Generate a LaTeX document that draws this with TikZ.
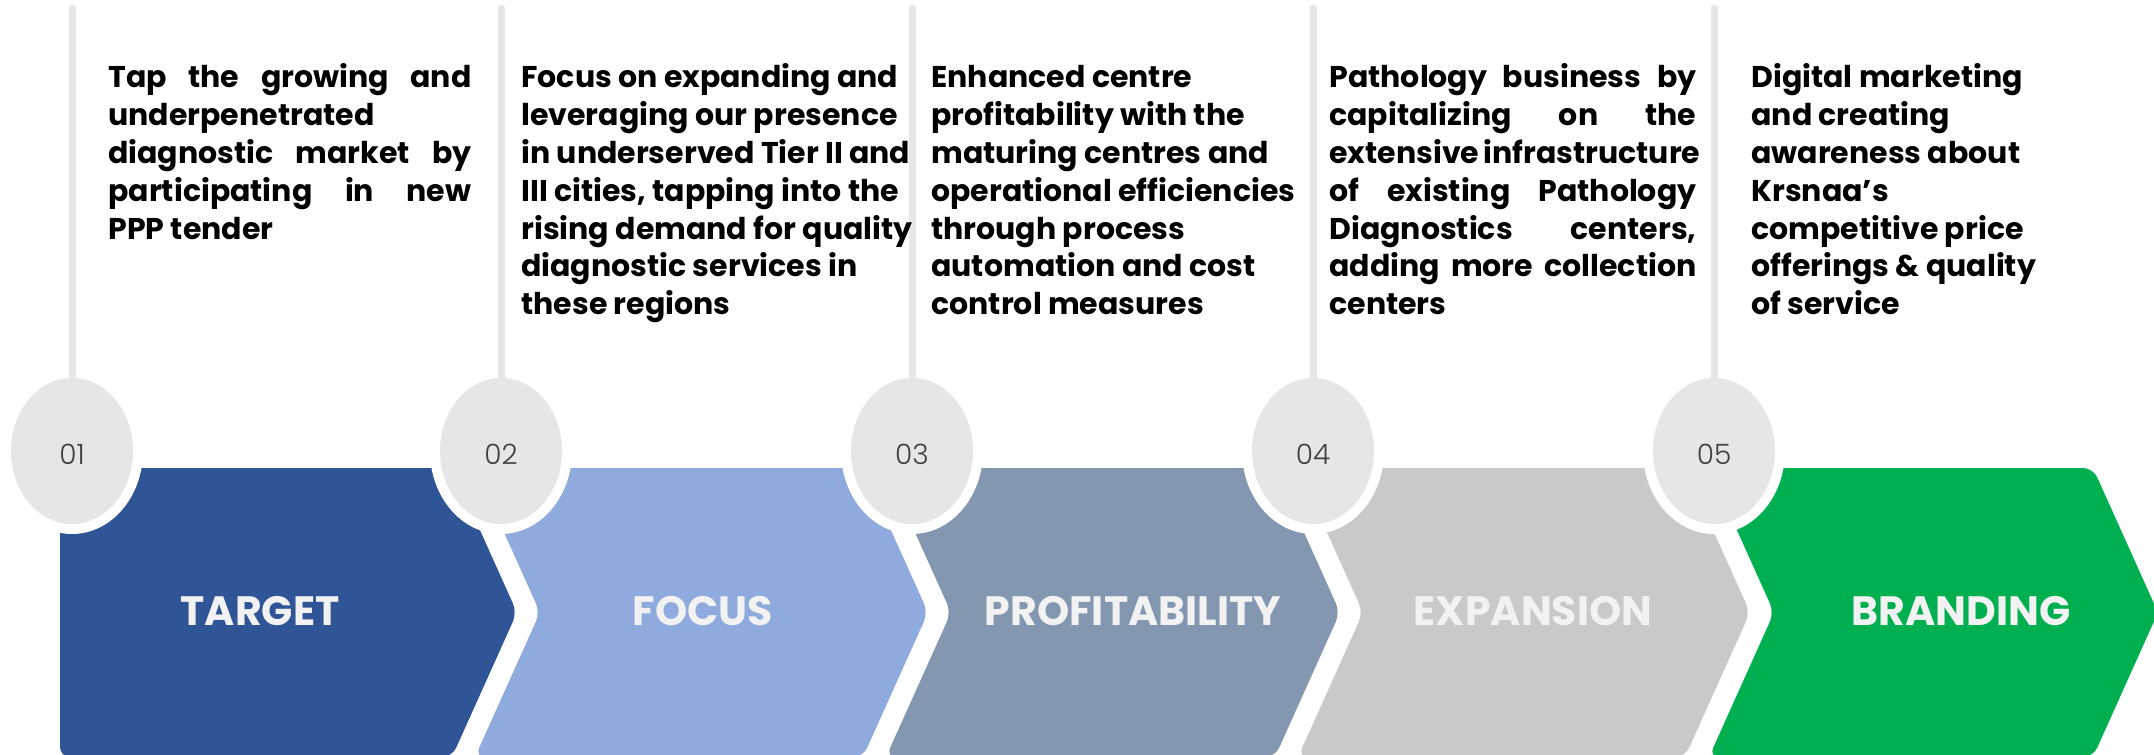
\documentclass[tikz,border=0pt]{standalone}
\usepackage{fontspec}
\setmainfont{Poppins}
\newfontfamily\numfont{Poppins Light}
\usetikzlibrary{shapes.geometric}

\definecolor{stageA}{HTML}{2F5597}
\definecolor{stageB}{HTML}{8FAADC}
\definecolor{stageC}{HTML}{8497B0}
\definecolor{stageD}{HTML}{C9C9C9}
\definecolor{stageE}{HTML}{00B050}
\definecolor{discgray}{HTML}{E6E6E6}
\definecolor{stemgray}{HTML}{E6E6E6}
\definecolor{labelwhite}{HTML}{F2F2F2}
\definecolor{numgray}{HTML}{404040}

% one justified line of fixed width
\newcommand{\jl}[1]{\makebox[181.5pt][s]{#1}}
\newcommand{\jm}[1]{\makebox[183.5pt][s]{#1}}

\begin{document}
\begin{tikzpicture}[x=0.5pt,y=-0.5pt,
  stage/.style={rounded corners=5pt},
  ring/.style={ellipse, fill=white, inner sep=0pt, minimum width=71pt, minimum height=83pt},
  disc/.style={ellipse, fill=discgray, inner sep=0pt, minimum width=61pt, minimum height=73pt},
  stem/.style={draw=stemgray, line width=3.5pt, line cap=round},
  numlabel/.style={inner sep=0pt, text=numgray, font=\numfont\fontsize{14pt}{14pt}\selectfont},
  stagelabel/.style={inner sep=0pt, text=labelwhite, font=\bfseries\fontsize{20.5pt}{20.5pt}\selectfont},
  bodytext/.style={anchor=base west, inner sep=0pt, font=\bfseries\fontsize{15pt}{19pt}\selectfont}
]
\useasboundingbox (0,0) rectangle (2154,755);
\clip (0,0) rectangle (2154,755);

% chevron stages
\fill[stage, stageA] (60,468) -- (452,468) -- (517,612.5) -- (452,757) -- (60,757) -- cycle;
\fill[stage, stageB] (475,468) -- (863,468) -- (928,612.5) -- (863,757) -- (475,757) -- (540,612.5) -- cycle;
\fill[stage, stageC] (886,468) -- (1275,468) -- (1340,612.5) -- (1275,757) -- (886,757) -- (951,612.5) -- cycle;
\fill[stage, stageD] (1298,468) -- (1685,468) -- (1750,612.5) -- (1685,757) -- (1298,757) -- (1363,612.5) -- cycle;
\fill[stage, stageE] (1709,468) -- (2093,468) -- (2158,612.5) -- (2093,757) -- (1709,757) -- (1774,612.5) -- cycle;

% stage titles
\node[stagelabel] (l1) at (260,611) {TARGET};
\node[stagelabel] (l2) at (703,611) {FOCUS};
\node[stagelabel] (l3) at (1133,611) {PROFITABILITY};
\node[stagelabel] (l4) at (1533,611) {EXPANSION};
\node[stagelabel] (l5) at (1961,611) {BRANDING};

% white halos around the step markers
\node[ring] (r1) at (72,451) {};
\node[ring] (r2) at (501,451) {};
\node[ring] (r3) at (912,451) {};
\node[ring] (r4) at (1313,451) {};
\node[ring] (r5) at (1714,451) {};

% stems
\coordinate (s1) at (72,8);
\coordinate (s2) at (501,8);
\coordinate (s3) at (912,8);
\coordinate (s4) at (1313,8);
\coordinate (s5) at (1714,8);
\draw[stem] (s1) -- (r1.center);
\draw[stem] (s2) -- (r2.center);
\draw[stem] (s3) -- (r3.center);
\draw[stem] (s4) -- (r4.center);
\draw[stem] (s5) -- (r5.center);

% step markers
\node[disc] (d1) at (72,451) {};
\node[disc] (d2) at (501,451) {};
\node[disc] (d3) at (912,451) {};
\node[disc] (d4) at (1313,451) {};
\node[disc] (d5) at (1714,451) {};
\node[numlabel] (n1) at (72,454) {01};
\node[numlabel] (n2) at (501,454) {02};
\node[numlabel] (n3) at (912,454) {03};
\node[numlabel] (n4) at (1313,454) {04};
\node[numlabel] (n5) at (1714,454) {05};

% descriptions
\node[bodytext] (t1) at (108,87) {\parbox[t]{230pt}{\raggedright
  \jl{Tap the growing and}\\
  underpenetrated\\
  \jl{diagnostic market by}\\
  \jl{participating in new}\\
  PPP tender}};
\node[bodytext] (t2) at (521,87) {\parbox[t]{230pt}{\raggedright
  Focus on expanding and\\
  leveraging our presence\\
  in underserved Tier II and\\
  III cities, tapping into the\\
  rising demand for quality\\
  diagnostic services in\\
  these regions}};
\node[bodytext] (t3) at (931,87) {\parbox[t]{230pt}{\raggedright
  Enhanced centre\\
  profitability with the\\
  maturing centres and\\
  operational efficiencies\\
  through process\\
  automation and cost\\
  control measures}};
\node[bodytext] (t4) at (1329,87) {\parbox[t]{230pt}{\raggedright
  \jm{Pathology business by}\\
  \jm{capitalizing on the}\\
  \jm{extensive infrastructure}\\
  \jm{of existing Pathology}\\
  \jm{Diagnostics centers,}\\
  \jm{adding more collection}\\
  centers}};
\node[bodytext] (t5) at (1751,87) {\parbox[t]{230pt}{\raggedright
  Digital marketing\\
  and creating\\
  awareness about\\
  Krsnaa’s\\
  competitive price\\
  offerings \& quality\\
  of service}};
\end{tikzpicture}
\end{document}
